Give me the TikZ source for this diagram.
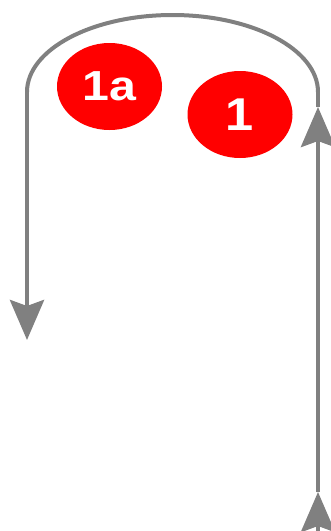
\documentclass[tikz,border=0pt]{standalone}
\usepackage{fontspec}
\setmainfont{Liberation Sans}
\usetikzlibrary{shapes.geometric, arrows.meta}

\begin{document}
\begin{tikzpicture}[x=1pt, y=1pt,
        every node/.style={font=\bfseries},
        badge/.style={ellipse, fill=red, text=white, inner sep=0pt,
            minimum width=105pt, minimum height=87pt},
        flow/.style={draw=arrowgray, line width=4.5pt,
            -{Stealth[length=40pt, width=34pt, inset=6pt]}},
        track/.style={draw=arrowgray, line width=4pt},]

        \definecolor{arrowgray}{RGB}{128, 128, 128}

        \clip (0, 0) rectangle (331, -531);

        % right side, bottom to top
        \coordinate (Rbot) at (318, -560);
        \coordinate (Rmid) at (318, -492);
        \coordinate (Rtip) at (318, -107);
        \coordinate (Rtop) at (318, -92);
        % left side
        \coordinate (Ltop) at (27, -92);
        \coordinate (Ltip) at (27, -340);

        \node[badge] (onea) at (109.5, -86.5) {\fontsize{42}{42}\selectfont\scalebox{1.15}[1]{1a}};
        \node[badge] (one) at (240, -114.5) {\fontsize{46}{46}\selectfont\scalebox{1.1}[1]{1}};

        \draw[flow] (Rbot) -- (Rmid);
        \draw[flow] (Rmid) -- (Rtip);
        \draw[track] (Rtip) -- (Rtop);
        \draw[track] (Rtop) arc[start angle=0, end angle=180, x radius=145.5, y radius=77] -- (Ltop);
        \draw[flow] (Ltop) -- (Ltip);

    \end{tikzpicture}
\end{document}
